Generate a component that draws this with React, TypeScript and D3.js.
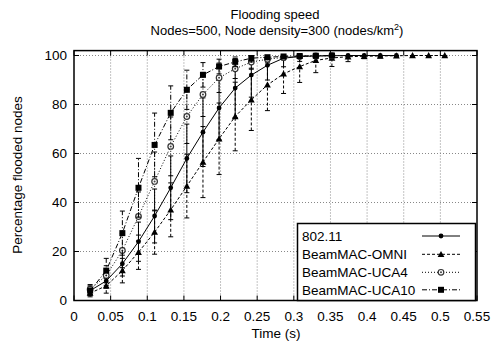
import React from "react";
import * as d3 from "d3";

const W = 492, H = 343;
const stepT = 0.022;

const xTicks = [0, 0.05, 0.1, 0.15, 0.2, 0.25, 0.3, 0.35, 0.4, 0.45, 0.5, 0.55];
const yTicks = [0, 20, 40, 60, 80, 100];

const seriesNames = ["802.11", "BeamMAC-OMNI", "BeamMAC-UCA4", "BeamMAC-UCA10"];

const v80211 = [4, 8, 15, 24, 34.5, 46, 58, 68.7, 78.6, 86.7, 92, 96, 98.9, 99.6, 99.8, 99.9, 100, 100, 100, 100];
const e80211 = [1.5, 3, 5, 8, 11, 13, 14, 14, 13, 12, 9, 6, 3.5, 2, 1, 0.8, 0.5, 0.5, 0.3, 0.3];

const vOmni = [3, 6, 12.2, 19.7, 27.9, 37, 46.7, 56.5, 66, 75.1, 81.9, 88, 92.5, 95.5, 98, 99, 99.5, 99.7, 99.8, 99.9, 100, 100, 100];
const eOmni = [1.5, 3, 5, 7, 9, 11, 13, 14.5, 14.6, 14, 12.5, 10.5, 8, 6.5, 5, 3.5, 2, 1, 0.8, 0.5, 0.3, 0.3, 0.3];

const vUca4 = [4.5, 10.2, 20.4, 34.3, 48.6, 62.9, 75.1, 84.1, 90.9, 94.6, 97.3, 98.5, 99.2, 99.6, 99.8, 99.9];
const eUca4 = [2, 4, 7, 10, 12, 12, 11, 9, 6, 4, 2.5, 1.5, 1, 0.8, 0.5, 0.3];

const vUca10 = [4, 12.2, 27.5, 46, 63.5, 76.6, 86, 92.1, 95.5, 97.4, 98.9, 99.3, 99.6, 99.8, 99.9, 100];
const eUca10 = [2, 5, 9, 12, 13, 11, 8, 5, 3, 2, 1.5, 1, 0.8, 0.5, 0.3, 0.3];

const seriesValues = [v80211, vOmni, vUca4, vUca10];
const seriesErrors = [e80211, eOmni, eUca4, eUca10];
const dashes = ["none", "3,2", "1,2", "5,2,1,2"];
const markers = ["dot", "triangle", "ocircle", "square"];

const FONT = "'Liberation Sans', Arial, Helvetica, sans-serif";

function Marker({ kind, x, y }: { kind: string; x: number; y: number }) {
  if (kind === "dot") return <circle cx={x} cy={y} r={2.4} fill="#000" />;
  if (kind === "triangle") {
    const s = 3.4;
    return <path d={`M${x},${y - s}L${x + s},${y + s * 0.8}L${x - s},${y + s * 0.8}Z`} fill="#000" />;
  }
  if (kind === "ocircle")
    return (
      <g>
        <circle cx={x} cy={y} r={2.8} fill="#fff" stroke="#333" strokeWidth={1.2} />
        <circle cx={x} cy={y} r={1} fill="#444" />
      </g>
    );
  return <rect x={x - 3} y={y - 3} width={6} height={6} fill="#000" />;
}

export default function App() {
  React.useEffect(() => {
    document.body.style.margin = "0";
  }, []);

  const x = d3.scaleLinear().domain([0, 0.55]).range([74, 477]);
  const y = d3.scaleLinear().domain([0, 102]).range([300.5, 50.6]);
  const [x0, x1] = x.range();
  const [yb, yt] = y.range();

  const line = d3
    .line<number>()
    .x((_, i) => x((i + 1) * stepT))
    .y((d) => y(d));

  const legendY = [236, 254.3, 272.3, 289.8];

  return (
    <svg width={W} height={H} style={{ position: "absolute", left: 0, top: 0, background: "#fff" }} fontFamily={FONT}>
      <rect width={W} height={H} fill="#fff" />
      {/* grid */}
      {xTicks.slice(1, -1).map((t) => (
        <line key={"gx" + t} x1={x(t)} x2={x(t)} y1={yb} y2={yt} stroke="#888" strokeWidth={1} strokeDasharray="1,2" />
      ))}
      {yTicks.slice(1).map((t) => (
        <line key={"gy" + t} x1={x0} x2={x1} y1={y(t)} y2={y(t)} stroke="#888" strokeWidth={1} strokeDasharray="1,2" />
      ))}
      {/* ticks */}
      {xTicks.map((t) => (
        <g key={"tx" + t}>
          <line x1={x(t)} x2={x(t)} y1={yb} y2={yb - 5} stroke="#000" strokeWidth={1} />
          <line x1={x(t)} x2={x(t)} y1={yt} y2={yt + 5} stroke="#000" strokeWidth={1} />
          <text x={x(t)} y={321} textAnchor="middle" fontSize={13.5} fill="#000">
            {String(t)}
          </text>
        </g>
      ))}
      {yTicks.map((t) => (
        <g key={"ty" + t}>
          <line x1={x0} x2={x0 + 5} y1={y(t)} y2={y(t)} stroke="#000" strokeWidth={1} />
          <line x1={x1} x2={x1 - 5} y1={y(t)} y2={y(t)} stroke="#000" strokeWidth={1} />
          <text x={67} y={y(t) + 4.8} textAnchor="end" fontSize={13.5} fill="#000">
            {String(t)}
          </text>
        </g>
      ))}
      {/* series */}
      {seriesValues.map((vals, s) => (
        <g key={"s" + s}>
          {vals.map((v, i) => {
            const e = seriesErrors[s][i];
            const px = x((i + 1) * stepT);
            const lo = y(Math.max(0, v - e));
            const hi = y(Math.min(100, v + e));
            return (
              <g key={i}>
                <line x1={px} x2={px} y1={lo} y2={hi} stroke="#000" strokeWidth={1} strokeDasharray={dashes[s]} />
                <line x1={px - 2.5} x2={px + 2.5} y1={lo} y2={lo} stroke="#000" strokeWidth={1} />
                <line x1={px - 2.5} x2={px + 2.5} y1={hi} y2={hi} stroke="#000" strokeWidth={1} />
              </g>
            );
          })}
          <path d={line(vals) || ""} fill="none" stroke="#000" strokeWidth={1} strokeDasharray={dashes[s]} />
          {vals.map((v, i) => (
            <Marker key={"m" + i} kind={markers[s]} x={x((i + 1) * stepT)} y={y(v)} />
          ))}
        </g>
      ))}
      {/* frame */}
      <rect x={x0} y={yt} width={x1 - x0} height={yb - yt} fill="none" stroke="#000" strokeWidth={1.5} />
      {/* legend */}
      <rect x={297.5} y={223.5} width={178} height={77} fill="#fff" stroke="#000" strokeWidth={1.5} />
      {seriesNames.map((n, s) => (
        <g key={"l" + s}>
          <text x={302} y={legendY[s] + 4.8} fontSize={13.5} fill="#000">
            {n}
          </text>
          <line x1={422} x2={460} y1={legendY[s]} y2={legendY[s]} stroke="#000" strokeWidth={1} strokeDasharray={dashes[s]} />
          <Marker kind={markers[s]} x={441} y={legendY[s]} />
        </g>
      ))}
      {/* titles */}
      <text x={275} y={19} textAnchor="middle" fontSize={13} fill="#000">
        Flooding speed
      </text>
      <text x={277} y={35} textAnchor="middle" fontSize={13} fill="#000">
        Nodes=500, Node density=300 (nodes/km
        <tspan dy={-5} fontSize={9}>2</tspan>
        <tspan dy={5}>)</tspan>
      </text>
      <text x={276} y={338} textAnchor="middle" fontSize={13.5} fill="#000">
        Time (s)
      </text>
      <text transform="translate(22,175) rotate(-90)" textAnchor="middle" fontSize={13.5} fill="#000">
        Percentage flooded nodes
      </text>
    </svg>
  );
}
